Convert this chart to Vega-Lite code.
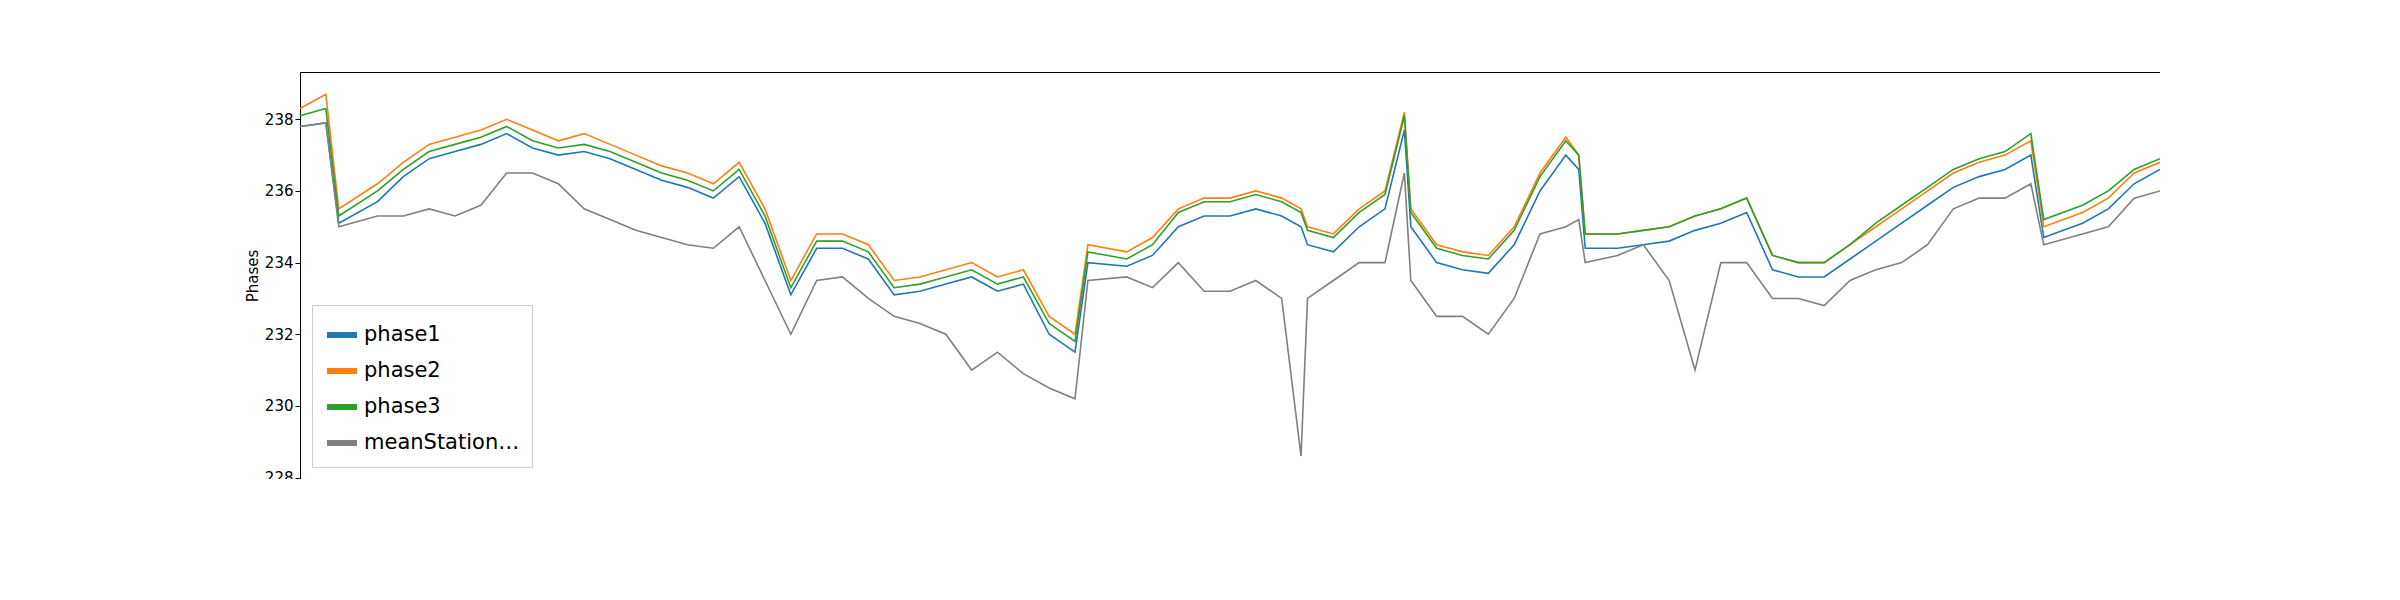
{
  "$schema": "https://vega.github.io/schema/vega-lite/v6.json",
  "width": 1860, "height": 407,
  "autosize": "none",
  "padding": {"left": 300, "top": 72, "right": 0, "bottom": 0},
  "background": "white",
  "config": {"font": "DejaVu Sans", "view": {"stroke": "black"}},
  "data": {"values": [
    {"t":"2020-06-07T00:00","phase1":237.8,"phase2":238.3,"phase3":238.1,"meanStationAverage":237.8},
    {"t":"2020-06-07T00:20","phase1":237.9,"phase2":238.7,"phase3":238.3,"meanStationAverage":237.9},
    {"t":"2020-06-07T00:30","phase1":235.1,"phase2":235.5,"phase3":235.3,"meanStationAverage":235.0},
    {"t":"2020-06-07T01:00","phase1":235.7,"phase2":236.2,"phase3":236.0,"meanStationAverage":235.3},
    {"t":"2020-06-07T01:20","phase1":236.4,"phase2":236.8,"phase3":236.6,"meanStationAverage":235.3},
    {"t":"2020-06-07T01:40","phase1":236.9,"phase2":237.3,"phase3":237.1,"meanStationAverage":235.5},
    {"t":"2020-06-07T02:00","phase1":237.1,"phase2":237.5,"phase3":237.3,"meanStationAverage":235.3},
    {"t":"2020-06-07T02:20","phase1":237.3,"phase2":237.7,"phase3":237.5,"meanStationAverage":235.6},
    {"t":"2020-06-07T02:40","phase1":237.6,"phase2":238.0,"phase3":237.8,"meanStationAverage":236.5},
    {"t":"2020-06-07T03:00","phase1":237.2,"phase2":237.7,"phase3":237.4,"meanStationAverage":236.5},
    {"t":"2020-06-07T03:20","phase1":237.0,"phase2":237.4,"phase3":237.2,"meanStationAverage":236.2},
    {"t":"2020-06-07T03:40","phase1":237.1,"phase2":237.6,"phase3":237.3,"meanStationAverage":235.5},
    {"t":"2020-06-07T04:00","phase1":236.9,"phase2":237.3,"phase3":237.1,"meanStationAverage":235.2},
    {"t":"2020-06-07T04:20","phase1":236.6,"phase2":237.0,"phase3":236.8,"meanStationAverage":234.9},
    {"t":"2020-06-07T04:40","phase1":236.3,"phase2":236.7,"phase3":236.5,"meanStationAverage":234.7},
    {"t":"2020-06-07T05:00","phase1":236.1,"phase2":236.5,"phase3":236.3,"meanStationAverage":234.5},
    {"t":"2020-06-07T05:20","phase1":235.8,"phase2":236.2,"phase3":236.0,"meanStationAverage":234.4},
    {"t":"2020-06-07T05:40","phase1":236.4,"phase2":236.8,"phase3":236.6,"meanStationAverage":235.0},
    {"t":"2020-06-07T06:00","phase1":235.1,"phase2":235.5,"phase3":235.3,"meanStationAverage":233.5},
    {"t":"2020-06-07T06:20","phase1":233.1,"phase2":233.5,"phase3":233.3,"meanStationAverage":232.0},
    {"t":"2020-06-07T06:40","phase1":234.4,"phase2":234.8,"phase3":234.6,"meanStationAverage":233.5},
    {"t":"2020-06-07T07:00","phase1":234.4,"phase2":234.8,"phase3":234.6,"meanStationAverage":233.6},
    {"t":"2020-06-07T07:20","phase1":234.1,"phase2":234.5,"phase3":234.3,"meanStationAverage":233.0},
    {"t":"2020-06-07T07:40","phase1":233.1,"phase2":233.5,"phase3":233.3,"meanStationAverage":232.5},
    {"t":"2020-06-07T08:00","phase1":233.2,"phase2":233.6,"phase3":233.4,"meanStationAverage":232.3},
    {"t":"2020-06-07T08:20","phase1":233.4,"phase2":233.8,"phase3":233.6,"meanStationAverage":232.0},
    {"t":"2020-06-07T08:40","phase1":233.6,"phase2":234.0,"phase3":233.8,"meanStationAverage":231.0},
    {"t":"2020-06-07T09:00","phase1":233.2,"phase2":233.6,"phase3":233.4,"meanStationAverage":231.5},
    {"t":"2020-06-07T09:20","phase1":233.4,"phase2":233.8,"phase3":233.6,"meanStationAverage":230.9},
    {"t":"2020-06-07T09:40","phase1":232.0,"phase2":232.5,"phase3":232.3,"meanStationAverage":230.5},
    {"t":"2020-06-07T10:00","phase1":231.5,"phase2":232.0,"phase3":231.8,"meanStationAverage":230.2},
    {"t":"2020-06-07T10:10","phase1":234.0,"phase2":234.5,"phase3":234.3,"meanStationAverage":233.5},
    {"t":"2020-06-07T10:40","phase1":233.9,"phase2":234.3,"phase3":234.1,"meanStationAverage":233.6},
    {"t":"2020-06-07T11:00","phase1":234.2,"phase2":234.7,"phase3":234.5,"meanStationAverage":233.3},
    {"t":"2020-06-07T11:20","phase1":235.0,"phase2":235.5,"phase3":235.4,"meanStationAverage":234.0},
    {"t":"2020-06-07T11:40","phase1":235.3,"phase2":235.8,"phase3":235.7,"meanStationAverage":233.2},
    {"t":"2020-06-07T12:00","phase1":235.3,"phase2":235.8,"phase3":235.7,"meanStationAverage":233.2},
    {"t":"2020-06-07T12:20","phase1":235.5,"phase2":236.0,"phase3":235.9,"meanStationAverage":233.5},
    {"t":"2020-06-07T12:40","phase1":235.3,"phase2":235.8,"phase3":235.7,"meanStationAverage":233.0},
    {"t":"2020-06-07T12:55","phase1":235.0,"phase2":235.5,"phase3":235.4,"meanStationAverage":228.6},
    {"t":"2020-06-07T13:00","phase1":234.5,"phase2":235.0,"phase3":234.9,"meanStationAverage":233.0},
    {"t":"2020-06-07T13:20","phase1":234.3,"phase2":234.8,"phase3":234.7,"meanStationAverage":233.5},
    {"t":"2020-06-07T13:40","phase1":235.0,"phase2":235.5,"phase3":235.4,"meanStationAverage":234.0},
    {"t":"2020-06-07T14:00","phase1":235.5,"phase2":236.0,"phase3":235.9,"meanStationAverage":234.0},
    {"t":"2020-06-07T14:15","phase1":237.7,"phase2":238.2,"phase3":238.1,"meanStationAverage":236.5},
    {"t":"2020-06-07T14:20","phase1":235.0,"phase2":235.5,"phase3":235.4,"meanStationAverage":233.5},
    {"t":"2020-06-07T14:40","phase1":234.0,"phase2":234.5,"phase3":234.4,"meanStationAverage":232.5},
    {"t":"2020-06-07T15:00","phase1":233.8,"phase2":234.3,"phase3":234.2,"meanStationAverage":232.5},
    {"t":"2020-06-07T15:20","phase1":233.7,"phase2":234.2,"phase3":234.1,"meanStationAverage":232.0},
    {"t":"2020-06-07T15:40","phase1":234.5,"phase2":235.0,"phase3":234.9,"meanStationAverage":233.0},
    {"t":"2020-06-07T16:00","phase1":236.0,"phase2":236.5,"phase3":236.4,"meanStationAverage":234.8},
    {"t":"2020-06-07T16:20","phase1":237.0,"phase2":237.5,"phase3":237.4,"meanStationAverage":235.0},
    {"t":"2020-06-07T16:30","phase1":236.6,"phase2":237.0,"phase3":237.0,"meanStationAverage":235.2},
    {"t":"2020-06-07T16:35","phase1":234.4,"phase2":234.8,"phase3":234.8,"meanStationAverage":234.0},
    {"t":"2020-06-07T17:00","phase1":234.4,"phase2":234.8,"phase3":234.8,"meanStationAverage":234.2},
    {"t":"2020-06-07T17:20","phase1":234.5,"phase2":234.9,"phase3":234.9,"meanStationAverage":234.5},
    {"t":"2020-06-07T17:40","phase1":234.6,"phase2":235.0,"phase3":235.0,"meanStationAverage":233.5},
    {"t":"2020-06-07T18:00","phase1":234.9,"phase2":235.3,"phase3":235.3,"meanStationAverage":231.0},
    {"t":"2020-06-07T18:20","phase1":235.1,"phase2":235.5,"phase3":235.5,"meanStationAverage":234.0},
    {"t":"2020-06-07T18:40","phase1":235.4,"phase2":235.8,"phase3":235.8,"meanStationAverage":234.0},
    {"t":"2020-06-07T19:00","phase1":233.8,"phase2":234.2,"phase3":234.2,"meanStationAverage":233.0},
    {"t":"2020-06-07T19:20","phase1":233.6,"phase2":234.0,"phase3":234.0,"meanStationAverage":233.0},
    {"t":"2020-06-07T19:40","phase1":233.6,"phase2":234.0,"phase3":234.0,"meanStationAverage":232.8},
    {"t":"2020-06-07T20:00","phase1":234.1,"phase2":234.5,"phase3":234.5,"meanStationAverage":233.5},
    {"t":"2020-06-07T20:20","phase1":234.6,"phase2":235.0,"phase3":235.1,"meanStationAverage":233.8},
    {"t":"2020-06-07T20:40","phase1":235.1,"phase2":235.5,"phase3":235.6,"meanStationAverage":234.0},
    {"t":"2020-06-07T21:00","phase1":235.6,"phase2":236.0,"phase3":236.1,"meanStationAverage":234.5},
    {"t":"2020-06-07T21:20","phase1":236.1,"phase2":236.5,"phase3":236.6,"meanStationAverage":235.5},
    {"t":"2020-06-07T21:40","phase1":236.4,"phase2":236.8,"phase3":236.9,"meanStationAverage":235.8},
    {"t":"2020-06-07T22:00","phase1":236.6,"phase2":237.0,"phase3":237.1,"meanStationAverage":235.8},
    {"t":"2020-06-07T22:20","phase1":237.0,"phase2":237.4,"phase3":237.6,"meanStationAverage":236.2},
    {"t":"2020-06-07T22:30","phase1":234.7,"phase2":235.0,"phase3":235.2,"meanStationAverage":234.5},
    {"t":"2020-06-07T23:00","phase1":235.1,"phase2":235.4,"phase3":235.6,"meanStationAverage":234.8},
    {"t":"2020-06-07T23:20","phase1":235.5,"phase2":235.8,"phase3":236.0,"meanStationAverage":235.0},
    {"t":"2020-06-07T23:40","phase1":236.2,"phase2":236.5,"phase3":236.6,"meanStationAverage":235.8},
    {"t":"2020-06-08T00:00","phase1":236.6,"phase2":236.8,"phase3":236.9,"meanStationAverage":236.0}
  ]},
  "transform": [
    {"fold": ["phase1", "phase2", "phase3", "meanStationAverage"], "as": ["series", "v"]}
  ],
  "mark": {"type": "line", "strokeWidth": 1.6},
  "encoding": {
    "x": {"field": "t", "type": "temporal", "title": "TimeStamp",
      "scale": {"domain": [{"year": 2020, "month": 6, "date": 7}, {"year": 2020, "month": 6, "date": 8}]},
      "axis": {"format": "%m-%d %H", "labelAngle": -30, "labelAlign": "right", "labelBaseline": "top",
        "values": [
          {"year": 2020, "month": 6, "date": 7, "hours": 0},
          {"year": 2020, "month": 6, "date": 7, "hours": 3},
          {"year": 2020, "month": 6, "date": 7, "hours": 6},
          {"year": 2020, "month": 6, "date": 7, "hours": 9},
          {"year": 2020, "month": 6, "date": 7, "hours": 12},
          {"year": 2020, "month": 6, "date": 7, "hours": 15},
          {"year": 2020, "month": 6, "date": 7, "hours": 18},
          {"year": 2020, "month": 6, "date": 7, "hours": 21},
          {"year": 2020, "month": 6, "date": 8, "hours": 0}
        ],
        "grid": false, "labelFontSize": 15, "titleFontSize": 15,
        "titleFontWeight": "normal", "titlePadding": 30, "domainColor": "black", "tickColor": "black", "labelColor": "black", "titleColor": "black"}},
    "y": {"field": "v", "type": "quantitative", "title": "Phases",
      "scale": {"domain": [227.96, 239.32], "nice": false, "zero": false},
      "axis": {"values": [228, 230, 232, 234, 236, 238], "grid": false, "labelFontSize": 15, "titleFontSize": 15,
        "titleFontWeight": "normal", "domainColor": "black", "tickColor": "black", "labelColor": "black", "titleColor": "black"}},
    "color": {"field": "series", "type": "nominal",
      "scale": {"domain": ["phase1", "phase2", "phase3", "meanStationAverage"], "range": ["#1f77b4", "#ff7f0e", "#2ca02c", "#808080"]},
      "legend": {"title": null, "orient": "bottom-left", "symbolType": "stroke", "symbolStrokeWidth": 6, "symbolSize": 900,
        "labelFontSize": 21, "labelColor": "black", "fillColor": "white", "strokeColor": "#cccccc", "padding": 12, "offset": 12, "rowPadding": 6}},
    "strokeWidth": {"condition": {"test": "datum.series === 'meanStationAverage'", "value": 1}, "value": 1.8}
  }
}
